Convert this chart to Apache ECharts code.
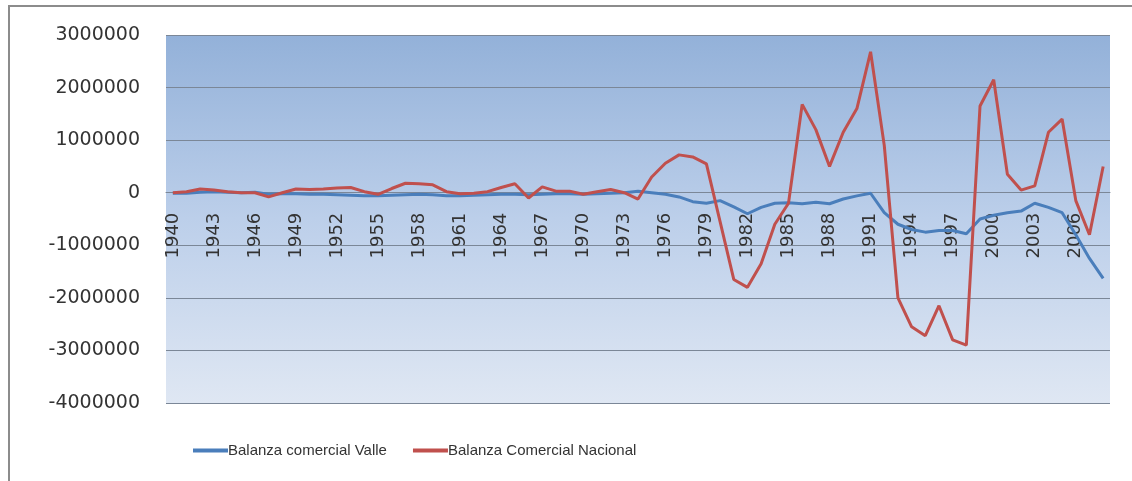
<!DOCTYPE html>
<html>
<head>
<meta charset="utf-8">
<script src="https://cdn.jsdelivr.net/npm/echarts@6/dist/echarts.min.js"></script>
<style>
  html, body { margin: 0; padding: 0; background: #fff; }
  #chart { width: 1132px; height: 481px; }
</style>
</head>
<body>
<div id="chart"></div>
<script>
// años 1940 - 2008
var years = [
  '1940','1941','1942','1943','1944','1945','1946','1947','1948','1949',
  '1950','1951','1952','1953','1954','1955','1956','1957','1958','1959',
  '1960','1961','1962','1963','1964','1965','1966','1967','1968','1969',
  '1970','1971','1972','1973','1974','1975','1976','1977','1978','1979',
  '1980','1981','1982','1983','1984','1985','1986','1987','1988','1989',
  '1990','1991','1992','1993','1994','1995','1996','1997','1998','1999',
  '2000','2001','2002','2003','2004','2005','2006','2007','2008'
];

var balanzaValle = [
  -10000, -10000, 10000, 20000, 10000, 0, 10000, -30000, -20000, -20000,
  -30000, -30000, -40000, -50000, -60000, -60000, -50000, -40000, -30000, -40000,
  -60000, -60000, -50000, -40000, -30000, -30000, -40000, -30000, -20000, -20000,
  -30000, -20000, -10000, 0, 30000, 0, -30000, -80000, -170000, -200000,
  -150000, -270000, -400000, -280000, -200000, -190000, -210000, -180000, -210000, -120000,
  -60000, -10000, -380000, -600000, -700000, -750000, -720000, -720000, -780000, -500000,
  -430000, -380000, -350000, -200000, -280000, -380000, -800000, -1250000, -1630000
];

var balanzaNacional = [
  0, 20000, 70000, 50000, 20000, 0, 0, -80000, 0, 70000,
  60000, 70000, 90000, 100000, 20000, -30000, 80000, 180000, 170000, 150000,
  20000, -20000, -10000, 20000, 100000, 170000, -100000, 110000, 30000, 30000,
  -30000, 20000, 60000, 0, -120000, 300000, 560000, 720000, 680000, 550000,
  -550000, -1650000, -1800000, -1350000, -600000, -200000, 1680000, 1200000, 500000, 1150000,
  1600000, 2680000, 900000, -2000000, -2550000, -2720000, -2150000, -2800000, -2900000, 1650000,
  2150000, 350000, 50000, 130000, 1150000, 1400000, -150000, -800000, 500000
];

var chart = echarts.init(document.getElementById('chart'));

// el eje de categorías cruza en 0 (como en Excel)
var gridTop = 35, gridBottom = 78, yMin = -4000000, yMax = 3000000;
var plotH = 481 - gridTop - gridBottom;
var zeroOffset = -plotH * (0 - yMin) / (yMax - yMin);

chart.setOption({
  animation: false,
  color: ['#4a7ebb', '#c0504d'],
  grid: {
    left: 166,
    right: 22,
    top: gridTop,
    bottom: gridBottom,
    show: true,
    borderWidth: 0,
    backgroundColor: {
      type: 'linear', x: 0, y: 0, x2: 0, y2: 1,
      colorStops: [
        { offset: 0, color: '#93b1d9' },
        { offset: 0.5, color: '#bccfea' },
        { offset: 1, color: '#dfe7f3' }
      ]
    }
  },
  legend: {
    bottom: 18,
    left: 186,
    itemWidth: 35,
    itemHeight: 14,
    itemGap: 24,
    itemStyle: { opacity: 0 },
    lineStyle: { width: 4 },
    textStyle: {
      fontFamily: 'Liberation Sans Narrow, Liberation Sans, sans-serif',
      fontSize: 15,
      color: '#333',
      padding: [0, 0, 0, -5]
    },
    data: ['Balanza comercial Valle', 'Balanza Comercial Nacional']
  },
  xAxis: {
    type: 'category',
    data: years,
    boundaryGap: true,
    offset: zeroOffset,
    axisLine: { onZero: false, lineStyle: { color: '#7b8797', width: 1 } },
    axisTick: { show: false },
    axisLabel: {
      interval: 2,
      rotate: 90,
      margin: 20,
      fontFamily: 'DejaVu Sans',
      fontSize: 18,
      color: '#333'
    }
  },
  yAxis: {
    type: 'value',
    min: yMin,
    max: yMax,
    interval: 1000000,
    axisLine: { show: false },
    axisTick: { show: false },
    splitLine: { lineStyle: { color: '#7b8797', width: 1 } },
    axisLabel: {
      margin: 26,
      fontFamily: 'DejaVu Sans',
      fontSize: 19,
      color: '#333',
      formatter: function (v) { return String(v); }
    }
  },
  graphic: [
    {
      type: 'polyline',
      shape: { points: [[9, 481], [9, 6], [1132, 6]] },
      style: { stroke: '#8c8c8c', lineWidth: 2, fill: null }
    }
  ],
  series: [
    {
      name: 'Balanza comercial Valle',
      type: 'line',
      data: balanzaValle,
      symbol: 'none',
      lineStyle: { width: 3 },
      z: 3
    },
    {
      name: 'Balanza Comercial Nacional',
      type: 'line',
      data: balanzaNacional,
      symbol: 'none',
      lineStyle: { width: 3 },
      z: 4
    }
  ]
});
</script>
</body>
</html>
